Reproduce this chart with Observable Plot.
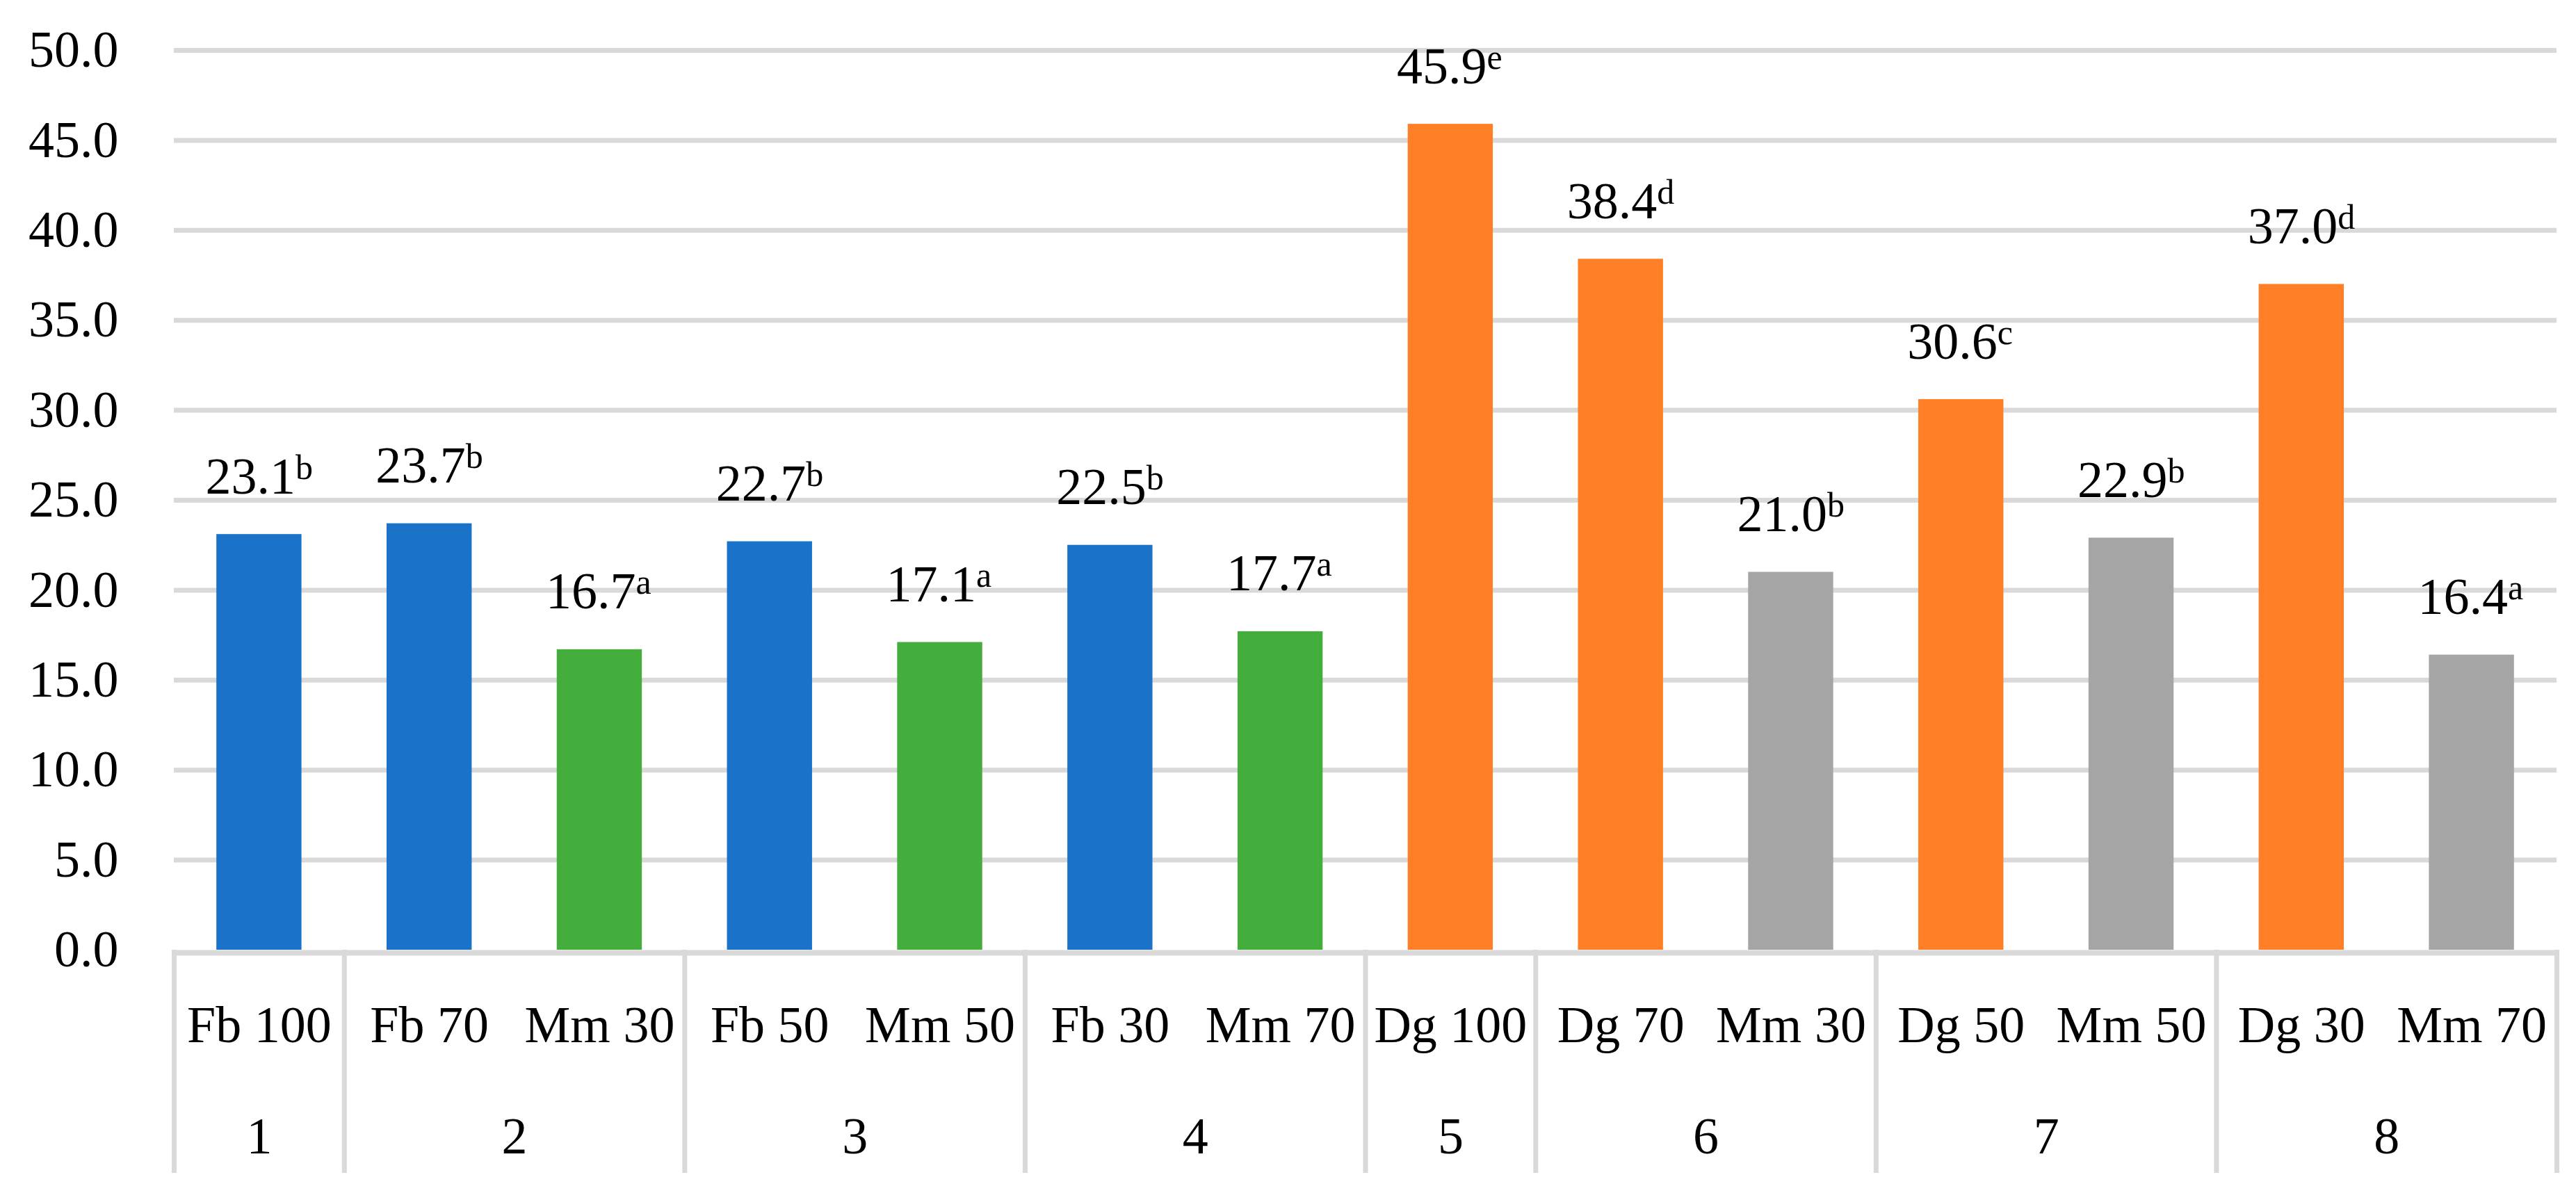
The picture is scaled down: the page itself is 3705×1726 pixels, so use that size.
<!DOCTYPE html>
<html>
<head>
<meta charset="utf-8">
<script src="https://cdn.jsdelivr.net/npm/d3@7"></script>
<script src="https://cdn.jsdelivr.net/npm/@observablehq/plot@0.6"></script>
<style>
  html, body { margin: 0; padding: 0; background: #fff; }
  svg { display: block; }
</style>
</head>
<body>
<div id="chart"></div>
<script>
// ---- data ----
const categories = ["Fb 100", "Fb 70", "Mm 30", "Fb 50", "Mm 50", "Fb 30", "Mm 70",
                    "Dg 100", "Dg 70", "Mm 30", "Dg 50", "Mm 50", "Dg 30", "Mm 70"];
const values = [23.1, 23.7, 16.7, 22.7, 17.1, 22.5, 17.7, 45.9, 38.4, 21.0, 30.6, 22.9, 37.0, 16.4];
const letters = ["b", "b", "a", "b", "a", "b", "a", "e", "d", "b", "c", "b", "d", "a"];
const groups = [1, 2, 2, 3, 3, 4, 4, 5, 6, 6, 7, 7, 8, 8];
const groupLabels = ["1", "2", "3", "4", "5", "6", "7", "8"];
const yTicks = [0, 5, 10, 15, 20, 25, 30, 35, 40, 45, 50];

// ---- palette (styles kept apart from data) ----
const colorDomain = ["Fb", "Mm with Fb", "Dg", "Mm with Dg"];
const colorRange = ["#1A73C8", "#43AE3B", "#FF7F27", "#A5A5A5"];

// ---- derived tables ----
const partnerOf = {};
categories.forEach((c, i) => {
  const sp = c.split(" ")[0];
  if (sp !== "Mm") partnerOf[groups[i]] = sp;
});
const bars = categories.map((c, i) => {
  const sp = c.split(" ")[0];
  return {
    i, cat: c, value: values[i], letter: letters[i], group: groups[i],
    key: sp === "Mm" ? "Mm with " + partnerOf[groups[i]] : sp
  };
});
const groupRows = groupLabels.map((g, k) => {
  const members = bars.filter(b => b.group === k + 1);
  return {label: g, start: d3.min(members, b => b.i), end: d3.max(members, b => b.i) + 1};
});
const boundaries = [0, ...groupRows.map(g => g.end)];

const FONT = "Liberation Serif";
const GRID = "#D9D9D9";

const chart = Plot.plot({
  width: 3705,
  height: 1726,
  marginLeft: 250,
  marginRight: 28,
  marginTop: 72,
  marginBottom: 360,
  style: {fontFamily: FONT, fontSize: "74px", color: "#000", background: "#fff"},
  x: {type: "linear", domain: [0, categories.length], axis: null},
  y: {domain: [0, 50], axis: null, label: null},
  color: {domain: colorDomain, range: colorRange},
  marks: [
    Plot.gridY(yTicks.filter(t => t > 0), {stroke: GRID, strokeWidth: 7, strokeOpacity: 1}),
    Plot.axisY(yTicks, {tickSize: 0, tickPadding: 80, fontSize: 74, fontFamily: FONT, label: null,
                        tickFormat: d => d.toFixed(1), fill: "#000"}),
    Plot.rectY(bars, {x1: d => d.i + 0.25, x2: d => d.i + 0.75, y1: 0, y2: "value", fill: "key"}),
    Plot.ruleY([0], {stroke: GRID, strokeWidth: 8, dy: 4}),
    Plot.ruleX(boundaries, {y1: 0, y2: 0, insetBottom: -321, stroke: GRID, strokeWidth: 7}),
    // value labels
    Plot.text(bars, {x: d => d.i + 0.5, y: "value", text: d => d.value.toFixed(1),
                     textAnchor: "end", lineAnchor: "bottom", dx: 52, dy: -59,
                     fontSize: 74, fontFamily: FONT, fill: "#000"}),
    Plot.text(bars, {x: d => d.i + 0.5, y: "value", text: "letter",
                     textAnchor: "start", lineAnchor: "bottom", dx: 52, dy: -80,
                     fontSize: 50, fontFamily: FONT, fill: "#000"}),
    // category labels
    Plot.text(bars, {x: d => d.i + 0.5, y: d => 0, text: "cat",
                     lineAnchor: "bottom", dy: 132, fontSize: 74, fontFamily: FONT, fill: "#000"}),
    // group numbers
    Plot.text(groupRows, {x: d => (d.start + d.end) / 2, y: d => 0, text: "label",
                          lineAnchor: "bottom", dy: 292, fontSize: 74, fontFamily: FONT, fill: "#000"})
  ]
});
document.getElementById("chart").appendChild(chart);
</script>
</body>
</html>
